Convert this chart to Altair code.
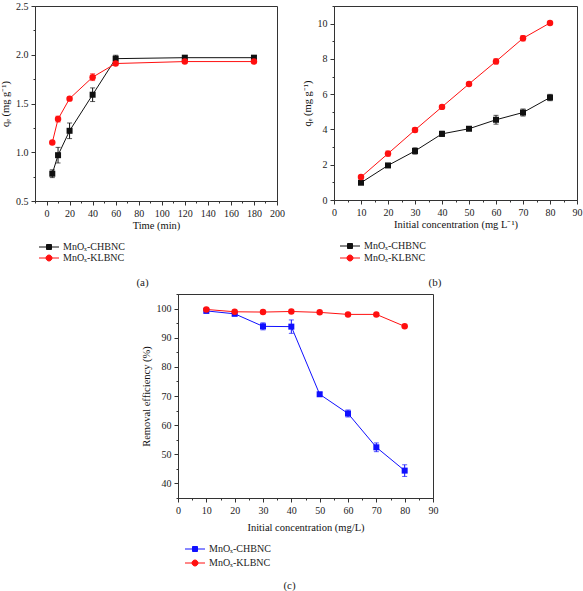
import altair as alt
import pandas as pd

FONT = "Liberation Serif"
SERIES = ["MnOₓ-CHBNC", "MnOₓ-KLBNC"]

# (a) adsorption kinetics
time_min = [5, 10, 20, 40, 60, 120, 180]
qt_ch = [0.78, 0.97, 1.22, 1.59, 1.96, 1.97, 1.97]
qt_ch_err = [0.04, 0.08, 0.08, 0.07, 0.035, 0.02, 0.02]
qt_kl = [1.10, 1.34, 1.55, 1.77, 1.91, 1.93, 1.93]
qt_kl_err = [0.01, 0.03, 0.01, 0.035, 0.01, 0.01, 0.01]

# (b) adsorption capacity vs initial concentration
conc = [10, 20, 30, 40, 50, 60, 70, 80]
qe_ch = [0.98, 1.96, 2.78, 3.75, 4.04, 4.55, 4.96, 5.81]
qe_ch_err = [0.05, 0.05, 0.18, 0.15, 0.08, 0.25, 0.20, 0.18]
qe_kl = [1.30, 2.63, 3.97, 5.28, 6.58, 7.86, 9.17, 10.04]
qe_kl_err = [0.05, 0.15, 0.12, 0.08, 0.06, 0.15, 0.15, 0.05]

# (c) removal efficiency vs initial concentration
rem_ch = [99.2, 98.2, 93.9, 93.8, 70.6, 64.0, 52.4, 44.4]
rem_ch_err = [0.4, 0.4, 1.2, 2.3, 0.6, 1.2, 1.5, 2.0]
rem_kl = [99.7, 98.9, 98.8, 99.0, 98.7, 98.0, 98.0, 93.9]
rem_kl_err = [0.3, 0.2, 0.2, 0.2, 0.2, 0.3, 0.3, 0.3]

# legend glyphs: a short line with the marker in its middle
SQUARE_LINE = "M-4,0H4M-1,-1H1V1H-1Z"
CIRCLE_LINE = "M-4,0H4M1.2,0A1.2,1.2,0,1,1,-1.2,0A1.2,1.2,0,1,1,1.2,0Z"

INDEP = dict(shape="independent", fill="independent", stroke="independent")


def make_df(x, ys, errs):
    rows = []
    for name, yv, ev in zip(SERIES, ys, errs):
        for xi, yi, ei in zip(x, yv, ev):
            rows.append({"x": xi, "y": yi, "lo": yi - ei, "hi": yi + ei, "series": name})
    return pd.DataFrame(rows)


def axis(title, values, major, fmt, title_pad=5):
    return alt.Axis(
        title=title,
        values=values,
        format=fmt,
        labelExpr=f"({major}) ? datum.label : ''",
        tickSize={"condition": {"test": major, "value": 4}, "value": 2},
        labelOverlap=False,
        labelFlush=False,
        grid=False,
        titlePadding=title_pad,
    )


def panel(df, xtitle, ytitle, xdom, ydom, xvals, xmajor, yvals, ymajor, yfmt,
          colors, w, h, leg_x, leg_y, row_pad, label, title_offset, title_dx, xtitle_pad):
    xs = alt.Scale(domain=xdom, nice=False, zero=False)
    ys = alt.Scale(domain=ydom, nice=False, zero=False)
    xax = axis(xtitle, xvals, xmajor, "d", xtitle_pad)
    yax = axis(ytitle, yvals, ymajor, yfmt)
    xenc = alt.X("x:Q", scale=xs, axis=xax)
    yenc = alt.Y("y:Q", scale=ys, axis=yax)
    layers = []
    for name, color, shape, size in zip(SERIES, colors, ["square", "circle"], [36, 42]):
        sub = alt.Chart(df).transform_filter(alt.datum.series == name)
        layers.append(sub.mark_line(color=color, strokeWidth=1).encode(x=xenc, y=yenc))
        layers.append(
            sub.mark_point(shape=shape, filled=True, size=size, color=color, opacity=1)
            .encode(x=xenc, y=yenc)
        )
        layers.append(
            sub.mark_errorbar(ticks=True, size=5, thickness=1, color=color)
            .encode(x=xenc, y=alt.Y("lo:Q", scale=ys, axis=yax), y2="hi:Q")
        )
    legend = alt.Legend(
        orient="none", legendX=leg_x, legendY=leg_y, title=None,
        direction="vertical", padding=0, symbolSize=25, symbolStrokeWidth=1,
        symbolOpacity=1, labelFont=FONT, labelFontSize=10, labelColor="#222",
        labelOffset=9, rowPadding=row_pad,
    )
    key = (
        alt.Chart(df).transform_filter("false").mark_point(filled=True)
        .encode(
            x=xenc, y=yenc,
            shape=alt.Shape("series:N", scale=alt.Scale(domain=SERIES, range=[SQUARE_LINE, CIRCLE_LINE]), legend=legend),
            fill=alt.Fill("series:N", scale=alt.Scale(domain=SERIES, range=colors), legend=legend),
            stroke=alt.Stroke("series:N", scale=alt.Scale(domain=SERIES, range=colors), legend=legend),
        )
    )
    layers.append(key)
    return alt.layer(*layers).properties(
        width=w, height=h,
        title=alt.TitleParams(label, orient="bottom", offset=title_offset, frame="bounds",
                              anchor="middle", dx=title_dx, font=FONT, fontSize=11,
                              fontWeight="normal", color="#222"),
    )


df_a = make_df(time_min, [qt_ch, qt_kl], [qt_ch_err, qt_kl_err])
df_b = make_df(conc, [qe_ch, qe_kl], [qe_ch_err, qe_kl_err])
df_c = make_df(conc, [rem_ch, rem_kl], [rem_ch_err, rem_kl_err])

BLACK, RED, BLUE = "#111111", "#ff1010", "#1010ff"

chart_a = panel(
    df_a, "Time (min)", "qₑ (mg g⁻¹)", [-10, 200], [0.5, 2.5],
    list(range(-10, 201, 10)), "datum.value >= 0 && datum.value % 20 === 0",
    [0.5 + 0.25 * i for i in range(9)], "abs(datum.value * 2 - round(datum.value * 2)) < 1e-6", ".1f",
    [BLACK, RED], 242, 195, 9, 236, 1, "(a)", 14, 0, 2,
)
chart_b = panel(
    df_b, "Initial concentration (mg L⁻¹)", "qₑ (mg g⁻¹)", [0, 90], [0, 11],
    list(range(0, 91, 5)), "datum.value % 10 === 0",
    list(range(0, 12)), "datum.value % 2 === 0", "d",
    [BLACK, RED], 243, 194, 11, 235, 2, "(b)", 14, -7, 2,
)
chart_c = panel(
    df_c, "Initial concentration (mg/L)", "Removal efficiency (%)", [0, 90], [35, 105],
    list(range(0, 91, 5)), "datum.value % 10 === 0",
    list(range(35, 106, 5)), "datum.value % 10 === 0", "d",
    [BLUE, RED], 255, 204, 12, 250, 4, "(c)", 12, 0, 7,
)

spacer = (
    alt.Chart(pd.DataFrame({"v": [0]}))
    .mark_point(opacity=0)
    .encode(x=alt.X("v:Q", axis=None), y=alt.Y("v:Q", axis=None))
    .properties(width=104, height=10, view=alt.ViewBackground(stroke="transparent"))
)

top = alt.hconcat(chart_a, chart_b, spacing=16).resolve_scale(**INDEP).resolve_legend(**INDEP)
bottom = alt.hconcat(spacer, chart_c, spacing=0).resolve_scale(**INDEP).resolve_legend(**INDEP)

chart = (
    alt.vconcat(top, bottom, spacing=-1)
    .resolve_scale(**INDEP)
    .resolve_legend(**INDEP)
    .properties(padding=0, background="white")
    .configure_view(stroke="#333333", strokeWidth=1)
    .configure_axis(
        labelFont=FONT, titleFont=FONT, labelFontSize=10, titleFontSize=10.5,
        titleFontWeight="normal", labelColor="#222222", titleColor="#111111",
        domainColor="#333333", tickColor="#333333", domainWidth=1, tickWidth=1,
        labelPadding=3,
    )
)

chart.save("out.html", embed_options={"renderer": "svg", "actions": False})
